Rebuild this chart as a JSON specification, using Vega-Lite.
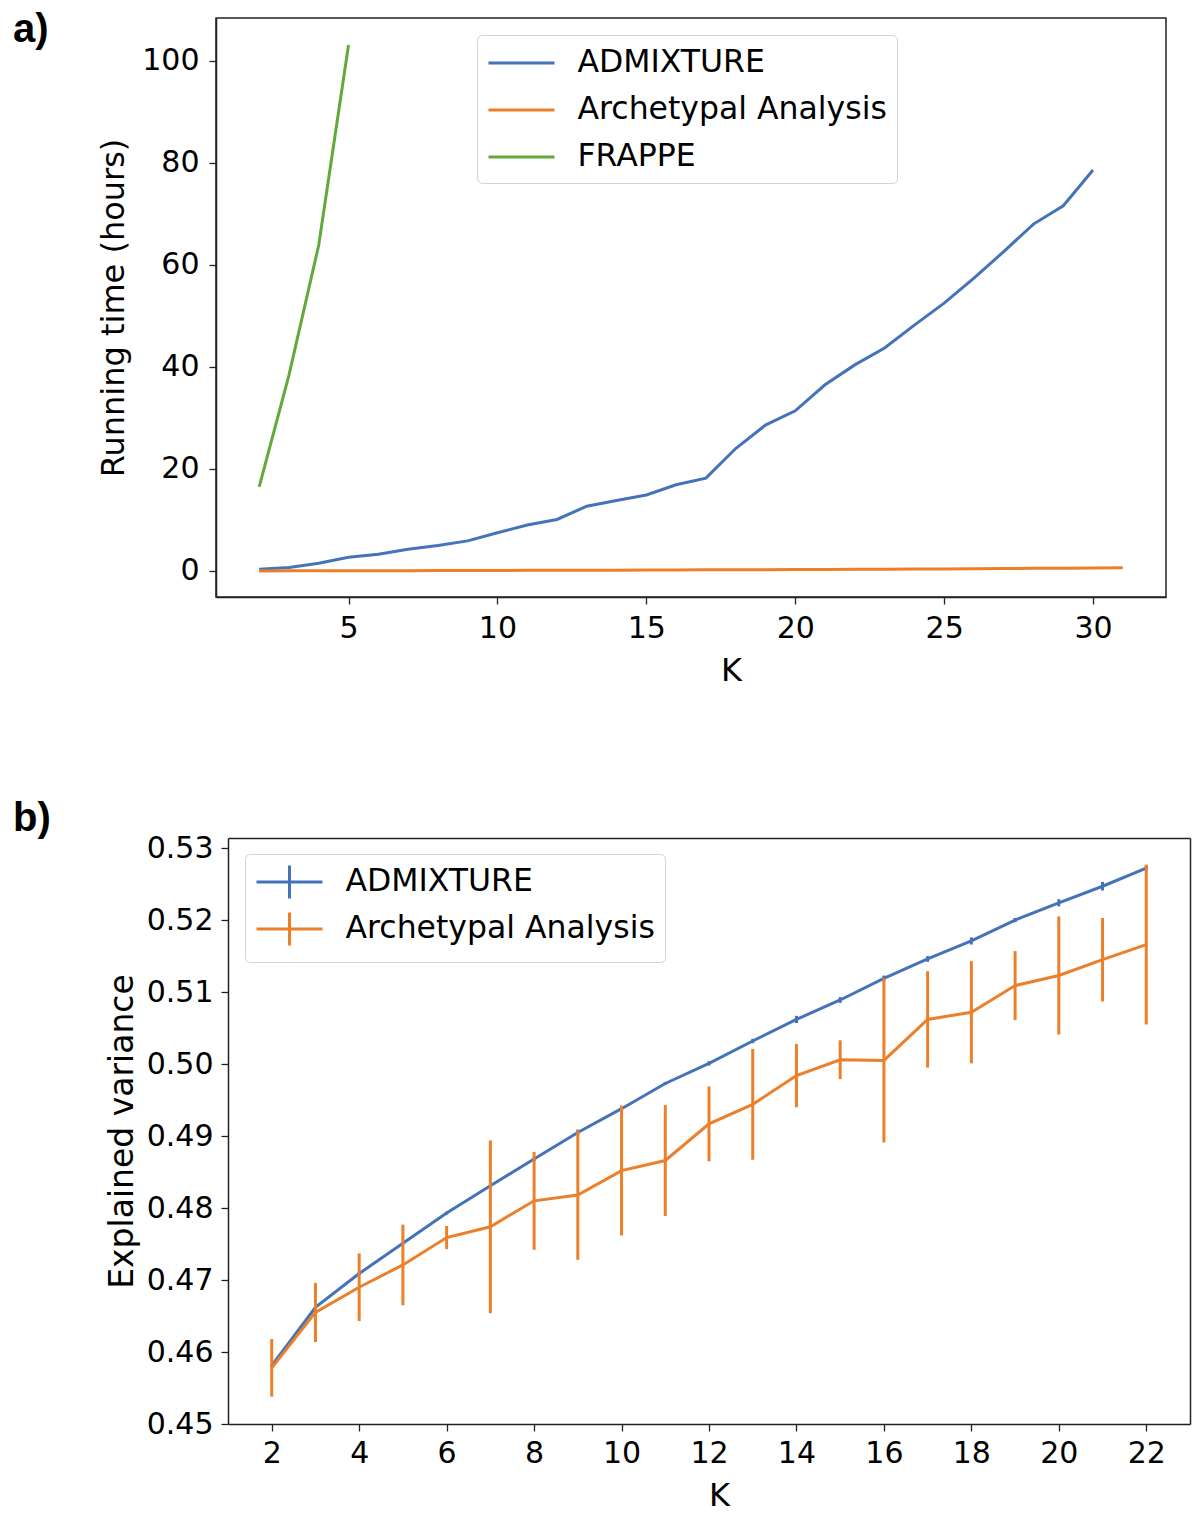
{
  "$schema": "https://vega.github.io/schema/vega-lite/v6.json",
  "background": "white",
  "padding": {"left": 12, "top": 9, "right": 10, "bottom": 5},
  "spacing": 112,
  "resolve": {"scale": {"color": "independent"}, "legend": {"color": "independent"}},
  "config": {
    "font": "DejaVu Sans",
    "view": {"stroke": "#222222", "strokeWidth": 1.5},
    "axis": {
      "labelFont": "DejaVu Sans", "labelFontSize": 30, "labelColor": "black",
      "titleFont": "DejaVu Sans", "titleFontSize": 32, "titleFontWeight": "normal", "titleColor": "black",
      "grid": false, "tickSize": 7, "tickWidth": 1.3, "tickColor": "#222222",
      "domainColor": "#222222", "domainWidth": 1.5
    },
    "legend": {
      "labelFont": "DejaVu Sans", "labelFontSize": 31.5, "labelColor": "black", "labelLimit": 700,
      "strokeColor": "#d4d4d4", "fillColor": "white", "cornerRadius": 5, "padding": 10,
      "rowPadding": 13, "symbolStrokeWidth": 3, "symbolSize": 1089, "symbolOffset": 16.5,
      "labelOffset": 38, "symbolFillColor": "transparent"
    }
  },
  "vconcat": [
    {
      "width": 950,
      "height": 579,
      "title": {"text": "a)", "anchor": "start", "frame": "group", "orient": "top", "dx": -203, "offset": -64, "baseline": "alphabetic", "fontSize": 40, "font": "Liberation Sans", "fontWeight": "bold", "color": "black"},
      "data": {"values": [
        {"K": 2, "method": "ADMIXTURE", "hours": 0.33},
        {"K": 3, "method": "ADMIXTURE", "hours": 0.7},
        {"K": 4, "method": "ADMIXTURE", "hours": 1.5},
        {"K": 5, "method": "ADMIXTURE", "hours": 2.7},
        {"K": 6, "method": "ADMIXTURE", "hours": 3.3},
        {"K": 7, "method": "ADMIXTURE", "hours": 4.25},
        {"K": 8, "method": "ADMIXTURE", "hours": 5.0},
        {"K": 9, "method": "ADMIXTURE", "hours": 5.9},
        {"K": 10, "method": "ADMIXTURE", "hours": 7.5},
        {"K": 11, "method": "ADMIXTURE", "hours": 9.0},
        {"K": 12, "method": "ADMIXTURE", "hours": 10.1},
        {"K": 13, "method": "ADMIXTURE", "hours": 12.7},
        {"K": 14, "method": "ADMIXTURE", "hours": 13.8},
        {"K": 15, "method": "ADMIXTURE", "hours": 14.9},
        {"K": 16, "method": "ADMIXTURE", "hours": 16.9},
        {"K": 17, "method": "ADMIXTURE", "hours": 18.2},
        {"K": 18, "method": "ADMIXTURE", "hours": 24.0},
        {"K": 19, "method": "ADMIXTURE", "hours": 28.6},
        {"K": 20, "method": "ADMIXTURE", "hours": 31.4},
        {"K": 21, "method": "ADMIXTURE", "hours": 36.5},
        {"K": 22, "method": "ADMIXTURE", "hours": 40.4},
        {"K": 23, "method": "ADMIXTURE", "hours": 43.7},
        {"K": 24, "method": "ADMIXTURE", "hours": 48.2},
        {"K": 25, "method": "ADMIXTURE", "hours": 52.5},
        {"K": 26, "method": "ADMIXTURE", "hours": 57.4},
        {"K": 27, "method": "ADMIXTURE", "hours": 62.6},
        {"K": 28, "method": "ADMIXTURE", "hours": 68.0},
        {"K": 29, "method": "ADMIXTURE", "hours": 71.6},
        {"K": 30, "method": "ADMIXTURE", "hours": 78.6},
        {"K": 2, "method": "Archetypal Analysis", "hours": 0.02},
        {"K": 3, "method": "Archetypal Analysis", "hours": 0.03},
        {"K": 4, "method": "Archetypal Analysis", "hours": 0.04},
        {"K": 5, "method": "Archetypal Analysis", "hours": 0.05},
        {"K": 6, "method": "Archetypal Analysis", "hours": 0.06},
        {"K": 7, "method": "Archetypal Analysis", "hours": 0.07},
        {"K": 8, "method": "Archetypal Analysis", "hours": 0.08},
        {"K": 9, "method": "Archetypal Analysis", "hours": 0.09},
        {"K": 10, "method": "Archetypal Analysis", "hours": 0.1},
        {"K": 11, "method": "Archetypal Analysis", "hours": 0.12},
        {"K": 12, "method": "Archetypal Analysis", "hours": 0.13},
        {"K": 13, "method": "Archetypal Analysis", "hours": 0.15},
        {"K": 14, "method": "Archetypal Analysis", "hours": 0.16},
        {"K": 15, "method": "Archetypal Analysis", "hours": 0.18},
        {"K": 16, "method": "Archetypal Analysis", "hours": 0.2},
        {"K": 17, "method": "Archetypal Analysis", "hours": 0.22},
        {"K": 18, "method": "Archetypal Analysis", "hours": 0.24},
        {"K": 19, "method": "Archetypal Analysis", "hours": 0.26},
        {"K": 20, "method": "Archetypal Analysis", "hours": 0.28},
        {"K": 21, "method": "Archetypal Analysis", "hours": 0.3},
        {"K": 22, "method": "Archetypal Analysis", "hours": 0.32},
        {"K": 23, "method": "Archetypal Analysis", "hours": 0.35},
        {"K": 24, "method": "Archetypal Analysis", "hours": 0.38},
        {"K": 25, "method": "Archetypal Analysis", "hours": 0.41},
        {"K": 26, "method": "Archetypal Analysis", "hours": 0.44},
        {"K": 27, "method": "Archetypal Analysis", "hours": 0.48},
        {"K": 28, "method": "Archetypal Analysis", "hours": 0.52},
        {"K": 29, "method": "Archetypal Analysis", "hours": 0.56},
        {"K": 30, "method": "Archetypal Analysis", "hours": 0.6},
        {"K": 31, "method": "Archetypal Analysis", "hours": 0.65},
        {"K": 2, "method": "FRAPPE", "hours": 16.5},
        {"K": 3, "method": "FRAPPE", "hours": 38.4},
        {"K": 4, "method": "FRAPPE", "hours": 63.9},
        {"K": 5, "method": "FRAPPE", "hours": 103.1}
      ]},
      "mark": {"type": "line", "strokeWidth": 3},
      "encoding": {
        "x": {"field": "K", "type": "quantitative",
          "scale": {"domain": [0.55, 32.45], "nice": false, "zero": false},
          "axis": {"values": [5, 10, 15, 20, 25, 30], "title": "K", "titleX": 515, "labelPadding": 9, "titlePadding": 12}},
        "y": {"field": "hours", "type": "quantitative",
          "scale": {"domain": [-5.1, 108.4], "nice": false, "zero": false},
          "axis": {"values": [0, 20, 40, 60, 80, 100], "title": "Running time (hours)", "labelPadding": 10, "titlePadding": 11}},
        "color": {"field": "method", "type": "nominal",
          "scale": {"domain": ["ADMIXTURE", "Archetypal Analysis", "FRAPPE"], "range": ["#4573b9", "#ec7f2a", "#62a83d"]},
          "legend": {"title": null, "orient": "none", "legendX": 261, "legendY": 17, "symbolType": "M-2,0H2"}}
      }
    },
    {
      "width": 974,
      "height": 586,
      "view": {"stroke": null},
      "title": {"text": "b)", "anchor": "start", "frame": "group", "orient": "top", "dx": -203, "offset": -38, "baseline": "alphabetic", "fontSize": 40, "font": "Liberation Sans", "fontWeight": "bold", "color": "black"},
      "data": {"values": [
        {"K": 2, "method": "ADMIXTURE", "mean": 0.4581, "err": 0.0002},
        {"K": 3, "method": "ADMIXTURE", "mean": 0.4662, "err": 0.0003},
        {"K": 4, "method": "ADMIXTURE", "mean": 0.4709, "err": 0.0002},
        {"K": 5, "method": "ADMIXTURE", "mean": 0.4751, "err": 0.0002},
        {"K": 6, "method": "ADMIXTURE", "mean": 0.4793, "err": 0.0002},
        {"K": 7, "method": "ADMIXTURE", "mean": 0.4831, "err": 0.0002},
        {"K": 8, "method": "ADMIXTURE", "mean": 0.4868, "err": 0.0003},
        {"K": 9, "method": "ADMIXTURE", "mean": 0.4905, "err": 0.0004},
        {"K": 10, "method": "ADMIXTURE", "mean": 0.4938, "err": 0.0004},
        {"K": 11, "method": "ADMIXTURE", "mean": 0.4973, "err": 0.0002},
        {"K": 12, "method": "ADMIXTURE", "mean": 0.5001, "err": 0.0003},
        {"K": 13, "method": "ADMIXTURE", "mean": 0.5032, "err": 0.0003},
        {"K": 14, "method": "ADMIXTURE", "mean": 0.5062, "err": 0.0005},
        {"K": 15, "method": "ADMIXTURE", "mean": 0.5089, "err": 0.0004},
        {"K": 16, "method": "ADMIXTURE", "mean": 0.5119, "err": 0.0004},
        {"K": 17, "method": "ADMIXTURE", "mean": 0.5146, "err": 0.0004},
        {"K": 18, "method": "ADMIXTURE", "mean": 0.5171, "err": 0.0005},
        {"K": 19, "method": "ADMIXTURE", "mean": 0.5200, "err": 0.0003},
        {"K": 20, "method": "ADMIXTURE", "mean": 0.5224, "err": 0.0005},
        {"K": 21, "method": "ADMIXTURE", "mean": 0.5247, "err": 0.0006},
        {"K": 22, "method": "ADMIXTURE", "mean": 0.5272, "err": 0.0004},
        {"K": 2, "method": "Archetypal Analysis", "mean": 0.4578, "err": 0.0040},
        {"K": 3, "method": "Archetypal Analysis", "mean": 0.4655, "err": 0.0041},
        {"K": 4, "method": "Archetypal Analysis", "mean": 0.4690, "err": 0.0047},
        {"K": 5, "method": "Archetypal Analysis", "mean": 0.4721, "err": 0.0056},
        {"K": 6, "method": "Archetypal Analysis", "mean": 0.4759, "err": 0.0016},
        {"K": 7, "method": "Archetypal Analysis", "mean": 0.4774, "err": 0.0120},
        {"K": 8, "method": "Archetypal Analysis", "mean": 0.4810, "err": 0.0068},
        {"K": 9, "method": "Archetypal Analysis", "mean": 0.4818, "err": 0.0090},
        {"K": 10, "method": "Archetypal Analysis", "mean": 0.4852, "err": 0.0090},
        {"K": 11, "method": "Archetypal Analysis", "mean": 0.4866, "err": 0.0077},
        {"K": 12, "method": "Archetypal Analysis", "mean": 0.4917, "err": 0.0052},
        {"K": 13, "method": "Archetypal Analysis", "mean": 0.4944, "err": 0.0077},
        {"K": 14, "method": "Archetypal Analysis", "mean": 0.4984, "err": 0.0044},
        {"K": 15, "method": "Archetypal Analysis", "mean": 0.5006, "err": 0.0027},
        {"K": 16, "method": "Archetypal Analysis", "mean": 0.5005, "err": 0.0114},
        {"K": 17, "method": "Archetypal Analysis", "mean": 0.5062, "err": 0.0067},
        {"K": 18, "method": "Archetypal Analysis", "mean": 0.5072, "err": 0.0071},
        {"K": 19, "method": "Archetypal Analysis", "mean": 0.5109, "err": 0.0048},
        {"K": 20, "method": "Archetypal Analysis", "mean": 0.5123, "err": 0.0082},
        {"K": 21, "method": "Archetypal Analysis", "mean": 0.5145, "err": 0.0058},
        {"K": 22, "method": "Archetypal Analysis", "mean": 0.5166, "err": 0.0111}
      ]},
      "layer": [
        {
          "mark": {"type": "line", "strokeWidth": 3},
          "encoding": {
            "x": {"field": "K", "type": "quantitative",
              "scale": {"domain": [1, 23], "nice": false, "zero": false, "range": [12, 974]},
              "axis": {"values": [2, 4, 6, 8, 10, 12, 14, 16, 18, 20, 22], "title": "K", "titleX": 503, "labelPadding": 7, "titlePadding": 12}},
            "y": {"field": "mean", "type": "quantitative",
              "scale": {"domain": [0.45, 0.5314], "nice": false, "zero": false},
              "axis": {"values": [0.45, 0.46, 0.47, 0.48, 0.49, 0.5, 0.51, 0.52, 0.53], "format": ".2f", "title": "Explained variance", "titleFontSize": 33, "offset": -12, "labelPadding": 8, "titlePadding": 7}},
            "color": {"field": "method", "type": "nominal",
              "scale": {"domain": ["ADMIXTURE", "Archetypal Analysis"], "range": ["#4573b9", "#ec7f2a"]},
              "legend": {"title": null, "orient": "none", "legendX": 29, "legendY": 16, "rowPadding": 1, "symbolType": "M-2,0H2M0,-1V1"}}
          }
        },
        {
          "mark": {"type": "errorbar", "thickness": 3},
          "encoding": {
            "x": {"field": "K", "type": "quantitative", "axis": null},
            "y": {"field": "mean", "type": "quantitative", "axis": null},
            "yError": {"field": "err"},
            "color": {"field": "method", "type": "nominal", "legend": null}
          }
        },
        {
          "mark": {"type": "line", "opacity": 0},
          "encoding": {
            "x": {"field": "K", "type": "quantitative", "axis": {"orient": "top", "labels": false, "ticks": false, "title": null}},
            "y": {"field": "mean", "type": "quantitative", "axis": {"orient": "right", "labels": false, "ticks": false, "title": null}}
          }
        }
      ],
      "resolve": {"axis": {"x": "independent", "y": "independent"}}
    }
  ]
}
